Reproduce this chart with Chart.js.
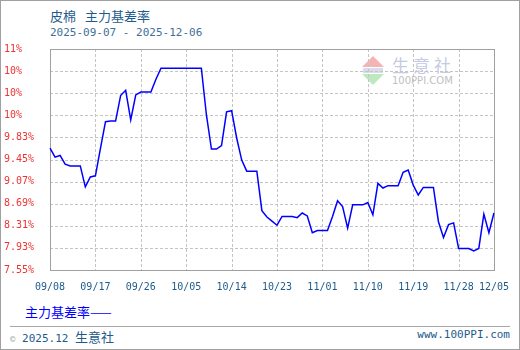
<!DOCTYPE html>
<html><head><meta charset="utf-8">
<script src="https://cdn.jsdelivr.net/npm/chart.js@4.4.1/dist/chart.umd.min.js"></script>
<style>
html,body{margin:0;padding:0;background:#fff;}
#wrap{position:relative;width:520px;height:350px;overflow:hidden;background:#fff;}
#frame{position:absolute;left:0;top:0;width:520px;height:350px;box-sizing:border-box;border:1px solid #a0a0a0;pointer-events:none;z-index:5;}
.t{position:absolute;white-space:nowrap;line-height:16px;}
#cv{position:absolute;left:0;top:0;z-index:2;}
#wm{position:absolute;left:360px;top:55px;width:100px;height:32px;z-index:1;}
</style></head>
<body>
<div id="wrap">
  <div class="t" style="left:50px;top:6px;font:13px 'Noto Sans CJK SC';color:#1e5b8c;">皮棉</div>
  <div class="t" style="left:85px;top:6px;font:13px 'Noto Sans CJK SC';color:#1e5b8c;">主力基差率</div>
  <div class="t" style="left:50px;top:26px;font:11px 'DejaVu Sans Mono';color:#3f6f98;">2025-09-07 - 2025-12-06</div>
  <div id="wm">
    <div style="position:absolute;left:2px;top:1px;width:0;height:0;border-left:11px solid transparent;border-right:11px solid transparent;border-bottom:11px solid #f4b4b4;"></div>
    <div style="position:absolute;left:3px;top:13px;width:20px;height:5px;background:#d8dcec;"></div>
    <div style="position:absolute;left:2px;top:19px;width:0;height:0;border-left:11px solid transparent;border-right:11px solid transparent;border-top:11px solid #bfe8bf;"></div>
    <div class="t" style="left:32px;top:0px;font:17px 'Noto Sans CJK SC';color:#c6cae3;letter-spacing:4px;line-height:20px;">生意社</div>
    <div class="t" style="left:32px;top:20px;font:10px 'DejaVu Sans';color:#c0c0c0;line-height:12px;">100PPI.COM</div>
  </div>
  <canvas id="cv" width="520" height="300"></canvas>
  <div class="t" style="left:25px;top:302px;font:13px 'Noto Sans CJK SC';color:#0000ff;">主力基差率——</div>
  <div style="position:absolute;left:10px;top:326px;width:500px;height:1px;background:#a8a8a8;"></div>
  <div class="t" style="left:10px;top:327px;font:11px 'DejaVu Sans Mono';color:#1e5b8c;"><span style="color:#9aa;font-size:9px;">©</span> 2025.12 <span style="font:13px 'Noto Sans CJK SC';">生意社</span></div>
  <div class="t" style="right:10px;top:328px;font:11px 'DejaVu Sans Mono';color:#1e5b8c;">www.100PPI.com</div>
  <div id="frame"></div>
</div>
<script>
// categories: daily dates 2025-09-08 .. 2025-12-05
const dates = [];
(function(){
  const d = new Date(Date.UTC(2025, 8, 8));
  const end = Date.UTC(2025, 11, 5);
  while (d.getTime() <= end) {
    const mm = String(d.getUTCMonth()+1).padStart(2,'0');
    const dd = String(d.getUTCDate()).padStart(2,'0');
    dates.push(mm + '/' + dd);
    d.setUTCDate(d.getUTCDate()+1);
  }
})();

// 主力基差率 (%)
const basisRate = [
  9.645, 9.49, 9.52, 9.37, 9.34, 9.34, 9.34, 8.98, 9.15, 9.17,
  9.64, 10.10, 10.11, 10.11, 10.55, 10.64, 10.13, 10.56, 10.61, 10.61,
  10.61, 10.83, 11.02, 11.02, 11.02, 11.02, 11.02, 11.02, 11.02, 11.02,
  11.02, 10.22, 9.63, 9.63, 9.69, 10.27, 10.29, 9.82, 9.44, 9.25,
  9.25, 9.25, 8.57, 8.46, 8.39, 8.32, 8.47, 8.47, 8.47, 8.45,
  8.53, 8.48, 8.19, 8.23, 8.23, 8.23, 8.47, 8.74, 8.64, 8.27,
  8.67, 8.67, 8.67, 8.71, 8.50, 9.04, 8.96, 9.00, 9.00, 9.00,
  9.23, 9.27, 9.01, 8.84, 8.97, 8.97, 8.97, 8.38, 8.11, 8.33,
  8.36, 7.92, 7.92, 7.92, 7.88, 7.92, 8.51, 8.19, 8.53
];

const yTickValues = [7.55, 7.93, 8.31, 8.69, 9.07, 9.45, 9.83, 10.21, 10.59, 10.97, 11.35];
const yTickLabels = ['7.55%', '7.93%', '8.31%', '8.69%', '9.07%', '9.45%', '9.83%', '10%', '10%', '10%', '11%'];
const xTickLabels = ['09/08', '09/17', '09/26', '10/05', '10/14', '10/23', '11/01', '11/10', '11/19', '11/28', '12/05'];

// dashed grid + solid frame, positioned from the chart's own scales
const gridFramePlugin = {
  id: 'gridFrame',
  beforeDatasetsDraw(chart) {
    const a = chart.chartArea, c = chart.ctx;
    const xs = chart.scales.x, ys = chart.scales.y;
    const L = Math.round(a.left), R = Math.round(a.right), T = Math.round(a.top), B = Math.round(a.bottom);
    c.save();
    c.strokeStyle = '#c4c4c4';
    c.lineWidth = 1;
    c.setLineDash([3, 2]);
    c.beginPath();
    xs.ticks.forEach((t, i) => {
      const x = Math.round(xs.getPixelForTick(i)) + 0.5;
      c.moveTo(x, T); c.lineTo(x, B);
    });
    ys.ticks.forEach((t, i) => {
      const y = Math.round(ys.getPixelForTick(i)) + 0.5;
      c.moveTo(L, y); c.lineTo(R, y);
    });
    c.stroke();
    c.setLineDash([]);
    c.strokeStyle = '#a0a0a0';
    c.strokeRect(L + 0.5, T + 0.5, R - L, B - T);
    c.restore();
  }
};

new Chart(document.getElementById('cv'), {
  type: 'line',
  data: {
    labels: dates,
    datasets: [{
      label: '主力基差率',
      data: basisRate,
      borderColor: '#0000ff',
      borderWidth: 1.5,
      pointRadius: 0,
      tension: 0,
      fill: false
    }]
  },
  options: {
    responsive: false,
    devicePixelRatio: 1,
    animation: false,
    layout: { padding: { left: 4, right: 20, top: 49, bottom: 0 } },
    plugins: { legend: { display: false }, tooltip: { enabled: false }, title: { display: false } },
    scales: {
      x: {
        type: 'category',
        afterBuildTicks: (s) => { s.ticks = xTickLabels.map(l => ({ value: dates.indexOf(l) })); },
        afterFit: (s) => { s.height = 30; },
        ticks: {
          autoSkip: false, maxRotation: 0, minRotation: 0, padding: 11,
          color: '#1e5b8c', font: { family: 'DejaVu Sans Mono', size: 10 },
          callback: function (v) { return dates[v]; }
        },
        grid: { display: false, drawTicks: false },
        border: { display: false }
      },
      y: {
        min: 7.55, max: 11.35,
        afterBuildTicks: (s) => { s.ticks = yTickValues.map(v => ({ value: v })); },
        afterFit: (s) => { s.width = 46; },
        ticks: {
          crossAlign: 'far', padding: 4,
          color: '#ee3333', font: { family: 'DejaVu Sans Mono', size: 10 },
          callback: (v, i) => yTickLabels[i]
        },
        grid: { display: false, drawTicks: false },
        border: { display: false }
      }
    }
  },
  plugins: [gridFramePlugin]
});
</script>
</body></html>
